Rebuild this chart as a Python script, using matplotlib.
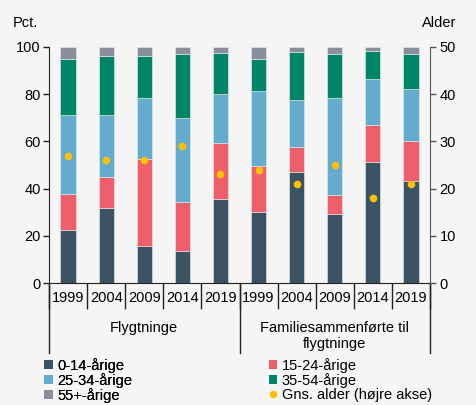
import matplotlib.pyplot as plt
import matplotlib.transforms as mtransforms
from matplotlib.patches import Patch
from matplotlib.lines import Line2D
import numpy as np

plt.rcParams['font.family'] = ['Liberation Sans', 'DejaVu Sans']

years = ['1999', '2004', '2009', '2014', '2019', '1999', '2004', '2009', '2014', '2019']
groups = ['Flygtninge', 'Familiesammenførte til\nflygtninge']

age_0_14 = [22.3, 31.6, 15.7, 13.4, 35.5, 30.1, 46.9, 29.1, 51.3, 43.4]
age_15_24 = [15.3, 13.3, 36.7, 20.8, 23.7, 19.3, 10.7, 8.2, 15.6, 16.6]
age_25_34 = [33.6, 26.4, 25.8, 35.9, 20.9, 31.8, 20.1, 41.2, 19.7, 22.2]
age_35_54 = [23.9, 24.7, 18.0, 26.9, 17.4, 13.9, 20.0, 18.4, 11.8, 15.0]
age_55 = [4.9, 4.0, 3.8, 3.0, 2.5, 4.9, 2.3, 3.1, 1.6, 2.8]
avg_age = [27, 26, 26, 29, 23, 24, 21, 25, 18, 21]

series = [age_0_14, age_15_24, age_25_34, age_35_54, age_55]
labels = ['0-14-årige', '15-24-årige', '25-34-årige', '35-54-årige', '55+-årige']
colors = ['#3C5364', '#EE5F6B', '#65ABCE', '#008566', '#888F98']
dot_color = '#FFC000'
bg = '#F5F5F5'
axis_color = '#222222'

fig = plt.figure(figsize=(4.77, 4.05), dpi=100, facecolor=bg)
ax = fig.add_axes([0.1027, 0.3012, 0.7988, 0.5828])
ax.set_facecolor(bg)
x = np.arange(len(years))

bottom = np.zeros(len(years))
for vals, col in zip(series, colors):
    ax.bar(x, vals, width=0.4, bottom=bottom, color=col, edgecolor='#E8ECEF', linewidth=0.4, zorder=2)
    bottom += np.array(vals)

ax.set_xlim(-0.5, 9.5)
ax.set_ylim(0, 100)
ax.set_yticks(range(0, 101, 20))
ax.tick_params(axis='y', labelsize=10.5, length=4, width=1, color=axis_color, pad=2)
ax.set_xticks(x)
ax.set_xticklabels(years, fontsize=10.5)
ax.tick_params(axis='x', which='major', length=0, pad=6)
ax.set_xticks(np.arange(-0.5, 10, 1), minor=True)
ax.tick_params(axis='x', which='minor', length=19, width=1, color=axis_color)
for s in ['top', 'right']:
    ax.spines[s].set_visible(False)
ax.spines['left'].set_color(axis_color)
ax.spines['bottom'].set_color(axis_color)

ax2 = ax.twinx()
ax2.set_ylim(0, 50)
ax2.set_yticks(range(0, 51, 10))
ax2.plot(x, avg_age, 'o', color=dot_color, markersize=4.5, linestyle='none', zorder=3)
ax2.tick_params(axis='y', labelsize=10.5, length=4, width=1, color='#555555', pad=3)
for s in ['top', 'left', 'bottom']:
    ax2.spines[s].set_visible(False)
ax2.spines['right'].set_color('#555555')

# group separators and labels below the axis
trans = mtransforms.blended_transform_factory(ax.transData, ax.transAxes)
for xs in [-0.5, 4.5, 9.5]:
    ax.add_line(Line2D([xs, xs], [0, -0.296], transform=trans, color=axis_color, lw=1, clip_on=False))
ax.text(2, -0.19, groups[0], transform=trans, ha='center', va='center', fontsize=10.5)
ax.text(7, -0.225, groups[1], transform=trans, ha='center', va='center', fontsize=10.5, linespacing=1.25)

fig.text(0.027, 0.943, 'Pct.', fontsize=10.5, va='center')
fig.text(0.957, 0.943, 'Alder', fontsize=10.5, va='center', ha='right')

def sq(c):
    return Patch(facecolor=c, edgecolor='none')

dot = Line2D([], [], marker='o', color=dot_color, linestyle='none', markersize=4.5)
leg_kw = dict(frameon=False, fontsize=10.5, handlelength=0.6, handleheight=0.6,
              handletextpad=0.3, labelspacing=0.0, borderpad=0, borderaxespad=0)
leg1 = fig.legend([sq(colors[0]), sq(colors[2]), sq(colors[4])],
                  [labels[0], labels[2], labels[4]], loc='upper left',
                  bbox_to_anchor=(0.092, 0.116), **leg_kw)
fig.add_artist(leg1)
fig.legend([sq(colors[1]), sq(colors[3]), dot],
           [labels[1], labels[3], 'Gns. alder (højre akse)'], loc='upper left',
           bbox_to_anchor=(0.563, 0.116), **leg_kw)

fig.savefig('out.png', dpi=100, facecolor=bg)
